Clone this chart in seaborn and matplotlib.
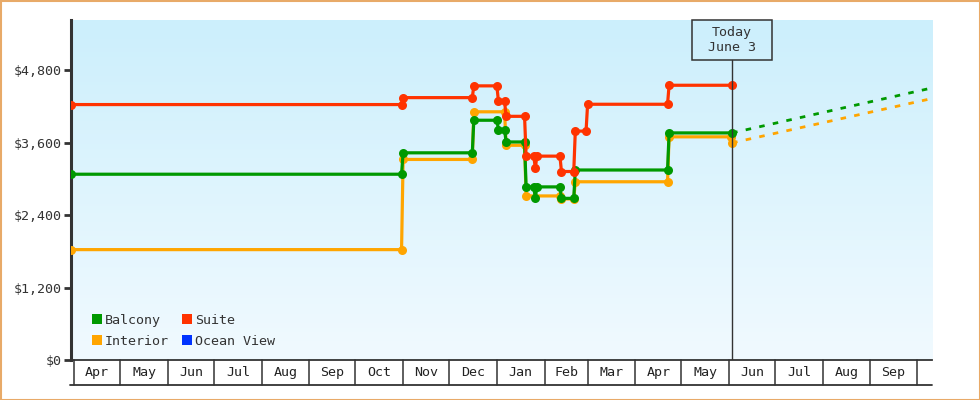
import numpy as np
import pandas as pd
import matplotlib
matplotlib.use("Agg")
import matplotlib.pyplot as plt
import matplotlib.dates as mdates
import seaborn as sns
from matplotlib.lines import Line2D
from matplotlib.patches import Rectangle
from matplotlib.transforms import blended_transform_factory

# ---------------- data ----------------
suite_dates = ["2022-03-30", "2022-10-31", "2022-11-01", "2022-12-16", "2022-12-17",
               "2023-01-01", "2023-01-02", "2023-01-06", "2023-01-07", "2023-01-19",
               "2023-01-20", "2023-01-25", "2023-01-26", "2023-01-27", "2023-02-11",
               "2023-02-12", "2023-02-20", "2023-02-21", "2023-02-28", "2023-03-01",
               "2023-04-22", "2023-04-23", "2023-06-03"]
suite_prices = [4235, 4235, 4350, 4350, 4545,
                4545, 4290, 4290, 4040, 4040,
                3380, 3380, 3180, 3380, 3380,
                3125, 3125, 3795, 3795, 4240,
                4240, 4555, 4555]

balcony_dates = ["2022-03-30", "2022-10-31", "2022-11-01", "2022-12-16", "2022-12-17",
                 "2023-01-01", "2023-01-02", "2023-01-06", "2023-01-07", "2023-01-19",
                 "2023-01-20", "2023-01-25", "2023-01-26", "2023-01-27", "2023-02-11",
                 "2023-02-12", "2023-02-20", "2023-02-21", "2023-04-22", "2023-04-23",
                 "2023-06-03"]
balcony_prices = [3080, 3080, 3435, 3435, 3975,
                  3975, 3820, 3820, 3615, 3615,
                  2870, 2870, 2680, 2870, 2870,
                  2680, 2680, 3150, 3150, 3765,
                  3765]

interior_dates = ["2022-03-30", "2022-10-31", "2022-11-01", "2022-12-16", "2022-12-17",
                  "2023-01-06", "2023-01-07", "2023-01-19", "2023-01-20", "2023-02-11",
                  "2023-02-12", "2023-02-20", "2023-02-21", "2023-04-22", "2023-04-23",
                  "2023-06-02", "2023-06-03"]
interior_prices = [1830, 1830, 3325, 3325, 4115,
                   4115, 3560, 3560, 2720, 2720,
                   2670, 2670, 2955, 2955, 3700,
                   3700, 3600]

balcony_proj_dates = ["2023-06-03", "2023-10-10"]
balcony_proj_prices = [3765, 4505]
interior_proj_dates = ["2023-06-03", "2023-10-10"]
interior_proj_prices = [3600, 4330]

cabins = ["Balcony", "Interior", "Suite", "Ocean View"]
cabin_colors = ["#009900", "#ffa500", "#ff3300", "#0033ff"]

y_ticks = [0, 1200, 2400, 3600, 4800]
y_tick_labels = ["$0", "$1,200", "$2,400", "$3,600", "$4,800"]

month_starts = ["2022-04-01", "2022-05-01", "2022-06-01", "2022-07-01", "2022-08-01",
                "2022-09-01", "2022-10-01", "2022-11-01", "2022-12-01", "2023-01-01",
                "2023-02-01", "2023-03-01", "2023-04-01", "2023-05-01", "2023-06-01",
                "2023-07-01", "2023-08-01", "2023-09-01", "2023-10-01"]
month_labels = ["Apr", "May", "Jun", "Jul", "Aug", "Sep", "Oct", "Nov", "Dec", "Jan",
                "Feb", "Mar", "Apr", "May", "Jun", "Jul", "Aug", "Sep"]

today_date = "2023-06-03"
today_label = "Today\nJune 3"
x_range = ["2022-03-30", "2023-10-11"]
y_max = 5637

# ---------------- styling ----------------
sns.set_theme(style="white")
plt.rcParams["font.family"] = ["DejaVu Sans Mono", "DejaVu Sans"]

def dnum(lst):
    return mdates.date2num(pd.to_datetime(lst).to_pydatetime())

frames = []
for name, d, p in [("Interior", interior_dates, interior_prices),
                   ("Balcony", balcony_dates, balcony_prices),
                   ("Suite", suite_dates, suite_prices)]:
    frames.append(pd.DataFrame({"x": dnum(d), "price": p, "cabin": name}))
df = pd.concat(frames, ignore_index=True)
palette = dict(zip(cabins, cabin_colors))

W, H = 980, 400
fig = plt.figure(figsize=(W / 100, H / 100), dpi=100)
fig.patch.set_facecolor("white")
L, R, T, B = 71, 932, 20, 360
ax = fig.add_axes([L / W, 1 - B / H, (R - L) / W, (B - T) / H])

# gradient background
grad = np.linspace(0, 1, 256).reshape(-1, 1)
top_c = np.array([0xcc, 0xef, 0xfc]) / 255
bot_c = np.array([0xf1, 0xfa, 0xff]) / 255
img = top_c[None, None, :] * (1 - grad[:, :, None]) + bot_c[None, None, :] * grad[:, :, None]
ax.imshow(img, extent=[0, 1, 0, 1], transform=ax.transAxes, aspect="auto", zorder=0)

sns.lineplot(data=df, x="x", y="price", hue="cabin",
             hue_order=["Interior", "Balcony", "Suite"], palette=palette,
             estimator=None, sort=False, marker="o", markersize=6.5,
             markeredgewidth=0, linewidth=2.3, legend=False, ax=ax, zorder=3)

for d, p, name in [(interior_proj_dates, interior_proj_prices, "Interior"),
                   (balcony_proj_dates, balcony_proj_prices, "Balcony")]:
    pdf = pd.DataFrame({"x": dnum(d), "price": p})
    sns.lineplot(data=pdf, x="x", y="price", color=palette[name], estimator=None,
                 sort=False, linewidth=2.0, linestyle=(0, (2.0, 3.0)), ax=ax, zorder=2)

ax.set_xlim(dnum(x_range))
ax.set_ylim(0, y_max)
ax.set_xlabel("")
ax.set_ylabel("")
ax.set_xticks([])
ax.set_yticks(y_ticks)
ax.set_yticklabels(y_tick_labels)
ax.tick_params(axis="y", left=True, length=5, width=2, color="#333333",
               labelsize=9.6, labelcolor="#333333", pad=2)
for s in ["top", "right"]:
    ax.spines[s].set_visible(False)
ax.spines["left"].set_color("#333333")
ax.spines["left"].set_linewidth(2.2)
ax.spines["bottom"].set_color("#333333")
ax.spines["bottom"].set_linewidth(1.3)
ax.grid(False)

# month cells below the axis
blend = blended_transform_factory(ax.transData, ax.transAxes)
cell_h = 25 / (B - T)
ms = dnum(month_starts)
for b in ms:
    ax.plot([b, b], [0, -cell_h], transform=blend, clip_on=False, color="#333333", lw=1.1)
ax.plot([-0.001, 1], [-cell_h, -cell_h], transform=ax.transAxes, clip_on=False,
        color="#333333", lw=1.3)
for i, lab in enumerate(month_labels):
    ax.text((ms[i] + ms[i + 1]) / 2, -cell_h / 2, lab, transform=blend, ha="center",
            va="center", fontsize=9.6, color="#222222", clip_on=False)

# today marker
tx = dnum([today_date])[0]
box_w = 80 / ((R - L) / (dnum(x_range)[1] - dnum(x_range)[0]))
box_h = 40 / (B - T)
ax.add_patch(Rectangle((tx - box_w / 2, 1 - box_h), box_w, box_h, transform=blend,
                       fill=False, edgecolor="#333333", lw=1.1, zorder=5, clip_on=False))
ax.plot([tx, tx], [0, 1 - box_h], transform=blend, color="#333333", lw=1.0, zorder=4)
ax.text(tx, 1 - box_h / 2, today_label, transform=blend, ha="center", va="center",
        fontsize=9.6, color="#333333", linespacing=1.25, zorder=6)

# legend
handles = [Line2D([], [], marker="s", linestyle="none", markersize=7.5,
                  markerfacecolor=c, markeredgewidth=0) for c in cabin_colors]
leg = ax.legend(handles, cabins, ncol=2, loc="lower left",
                bbox_to_anchor=(21 / (R - L), 12 / (B - T)), frameon=False,
                fontsize=9.6, handlelength=0.7, handletextpad=0.25,
                columnspacing=1.0, labelspacing=0.6, borderpad=0, borderaxespad=0)
for t in leg.get_texts():
    t.set_color("#333333")

# figure border
fig.add_artist(Rectangle((0.5 / W, 0.5 / H), 1 - 1 / W, 1 - 1 / H, transform=fig.transFigure,
                         fill=False, edgecolor="#e8aa68", lw=1.5))

fig.savefig("out.png", dpi=100)
